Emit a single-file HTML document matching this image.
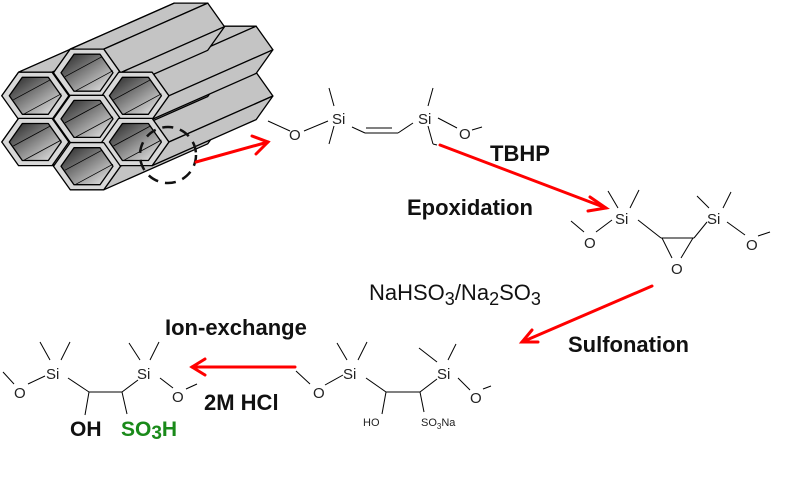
<!DOCTYPE html>
<html><head><meta charset="utf-8"><style>
html,body{margin:0;padding:0;background:#fff;}
svg{display:block;font-family:"Liberation Sans",Arial,sans-serif;}
.b{stroke:#000;stroke-width:1;fill:none}
.m{font-size:15px;fill:#222}
.s{font-size:11px;fill:#222}
.L{font-size:22px;font-weight:bold;fill:#111}
</style></head><body>
<svg id="sv" width="800" height="500" viewBox="0 0 800 500">
<defs>
<linearGradient id="g" x1="0" y1="0" x2="1" y2="1">
<stop offset="0" stop-color="#222"/><stop offset="0.5" stop-color="#888"/><stop offset="1" stop-color="#eee"/>
</linearGradient>
</defs>
<g id="hex"></g>
<ellipse cx="168" cy="155" rx="28" ry="28" fill="none" stroke="#111" stroke-width="2.5" stroke-dasharray="11,7"/>
<g stroke="#f00" stroke-width="3" fill="none" stroke-linecap="round">
<line x1="196" y1="162" x2="268" y2="142"/><polyline points="252,136 268,142 256,154"/>
<line x1="440" y1="145" x2="606" y2="208"/><polyline points="590,197 606,208 588,211"/>
<line x1="652" y1="286" x2="522" y2="342"/><polyline points="532,330 522,342 538,342"/>
<line x1="295" y1="367" x2="192" y2="367"/><polyline points="205,359 192,367 205,375"/>
</g>
<g class="b">
<line x1="268" y1="121" x2="290" y2="131"/><line x1="304" y1="131" x2="328" y2="121"/>
<line x1="329" y1="88" x2="334" y2="106"/><line x1="334" y1="126" x2="329" y2="144"/>
<line x1="352" y1="127" x2="365" y2="133"/><line x1="365" y1="133" x2="398" y2="133"/><line x1="366" y1="128" x2="392" y2="128"/><line x1="398" y1="133" x2="413" y2="123"/>
<line x1="433" y1="88" x2="428" y2="106"/><line x1="428" y1="126" x2="433" y2="144"/><line x1="433" y1="144" x2="437" y2="145"/>
<line x1="438" y1="118" x2="457" y2="128"/><line x1="472" y1="130" x2="482" y2="127"/>
</g>
<text class="m" x="332" y="124">Si</text><text class="m" x="289" y="140">O</text>
<text class="m" x="418" y="124">Si</text><text class="m" x="459" y="139">O</text>
<text class="L" x="490" y="161">TBHP</text>
<text class="L" x="407" y="215">Epoxidation</text>
<g class="b">
<line x1="608" y1="191" x2="618" y2="208"/><line x1="639" y1="190" x2="630" y2="208"/>
<line x1="571" y1="221" x2="584" y2="232"/><line x1="596" y1="232" x2="612" y2="220"/>
<line x1="638" y1="220" x2="661" y2="238"/><line x1="661" y1="238" x2="694" y2="238"/>
<line x1="662" y1="238" x2="672" y2="258"/><line x1="693" y1="238" x2="681" y2="258"/>
<line x1="694" y1="238" x2="707" y2="222"/>
<line x1="697" y1="196" x2="709" y2="208"/><line x1="731" y1="192" x2="723" y2="208"/>
<line x1="727" y1="222" x2="745" y2="235"/><line x1="758" y1="236" x2="770" y2="232"/>
</g>
<text class="m" x="615" y="224">Si</text><text class="m" x="584" y="248">O</text>
<text class="m" x="671" y="274">O</text>
<text class="m" x="707" y="224">Si</text><text class="m" x="746" y="250">O</text>
<text x="369" y="300" style="font-size:22px;fill:#111">NaHSO<tspan font-size="18" dy="5">3</tspan><tspan dy="-5">/Na</tspan><tspan font-size="18" dy="5">2</tspan><tspan dy="-5">SO</tspan><tspan font-size="18" dy="5">3</tspan></text>
<text class="L" x="568" y="352">Sulfonation</text>
<text class="L" x="165" y="335">Ion-exchange</text>
<text class="L" x="204" y="410">2M HCl</text>
<g class="b">
<line x1="40" y1="342" x2="50" y2="360"/><line x1="70" y1="342" x2="61" y2="360"/>
<line x1="3" y1="372" x2="14" y2="384"/><line x1="28" y1="384" x2="45" y2="376"/>
<line x1="68" y1="378" x2="89" y2="392"/><line x1="89" y1="392" x2="122" y2="392"/><line x1="122" y1="392" x2="138" y2="380"/>
<line x1="89" y1="392" x2="85" y2="415"/><line x1="122" y1="392" x2="127" y2="414"/>
<line x1="129" y1="343" x2="140" y2="360"/><line x1="159" y1="342" x2="150" y2="360"/>
<line x1="160" y1="378" x2="173" y2="388"/><line x1="186" y1="389" x2="197" y2="384"/>
</g>
<text class="m" x="46" y="379">Si</text><text class="m" x="14" y="398">O</text>
<text class="m" x="137" y="379">Si</text><text class="m" x="172" y="402">O</text>
<text x="70" y="436" style="font-size:21px;font-weight:bold;fill:#111">OH</text>
<text x="121" y="436" style="font-size:21px;font-weight:bold;fill:#1a8a1a">SO<tspan font-size="19" dy="3">3</tspan><tspan dy="-3">H</tspan></text>
<g class="b">
<line x1="296" y1="371" x2="310" y2="384"/><line x1="325" y1="385" x2="343" y2="375"/>
<line x1="337" y1="343" x2="347" y2="360"/><line x1="367" y1="342" x2="358" y2="360"/>
<line x1="366" y1="378" x2="386" y2="392"/><line x1="386" y1="392" x2="420" y2="392"/><line x1="420" y1="392" x2="437" y2="379"/>
<line x1="386" y1="392" x2="382" y2="414"/><line x1="420" y1="392" x2="424" y2="412"/>
<line x1="419" y1="348" x2="437" y2="362"/><line x1="456" y1="344" x2="448" y2="360"/>
<line x1="458" y1="378" x2="470" y2="390"/><line x1="483" y1="389" x2="491" y2="386"/>
</g>
<text class="m" x="343" y="379">Si</text><text class="m" x="313" y="398">O</text>
<text class="m" x="437" y="379">Si</text><text class="m" x="470" y="403">O</text>
<text class="s" x="363" y="426">HO</text>
<text class="s" x="421" y="426">SO<tspan font-size="8" dy="3">3</tspan><tspan dy="-3">Na</tspan></text>
</svg>
<script>
(function(){
var g=document.getElementById('hex'),NS='http://www.w3.org/2000/svg';
var dx=104,dy=-46,S=1.1;
var cs0=[[87,77],[40,98],[131,98],[87,119],[40,140],[131,140],[87,162]];
var cs=cs0.map(function(c){return [87+(c[0]-87)*S,120+(c[1]-120)*S];});
var W=33.5,H=23.6;
function hx(c,w,h){return [[c[0]-w,c[1]],[c[0]-w/2,c[1]-h],[c[0]+w/2,c[1]-h],[c[0]+w,c[1]],[c[0]+w/2,c[1]+h],[c[0]-w/2,c[1]+h]];}
function poly(p,f,sw,st){var e=document.createElementNS(NS,'polygon');e.setAttribute('points',p.map(function(q){return q.join(',')}).join(' '));e.setAttribute('fill',f);e.setAttribute('stroke',st||'#000');e.setAttribute('stroke-width',sw||1.3);e.setAttribute('stroke-linejoin','round');g.appendChild(e);}
var order=[6,4,5,3,1,2,0];
order.forEach(function(i){var o=hx(cs[i],W,H);
 [0,1,2,3].forEach(function(k){var a=o[k],b=o[(k+1)%6];
  poly([a,b,[b[0]+dx,b[1]+dy],[a[0]+dx,a[1]+dy]],'#c4c4c4',1.3);});
});
cs.forEach(function(c){poly(hx(c,W,H),'#d8d8d8',1.3);});
cs.forEach(function(c){poly(hx(c,26,18.5),'url(#g)',1.3);
 var l=document.createElementNS(NS,'line');l.setAttribute('x1',c[0]-22);l.setAttribute('y1',c[1]+4);l.setAttribute('x2',c[0]+15);l.setAttribute('y2',c[1]-16);l.setAttribute('stroke','#000');l.setAttribute('stroke-width','0.8');g.appendChild(l);
 var l2=document.createElementNS(NS,'line');l2.setAttribute('x1',c[0]-11);l2.setAttribute('y1',c[1]+18);l2.setAttribute('x2',c[0]+26);l2.setAttribute('y2',c[1]-2);l2.setAttribute('stroke','#000');l2.setAttribute('stroke-width','0.8');g.appendChild(l2);});
})();
</script>
</body></html>
